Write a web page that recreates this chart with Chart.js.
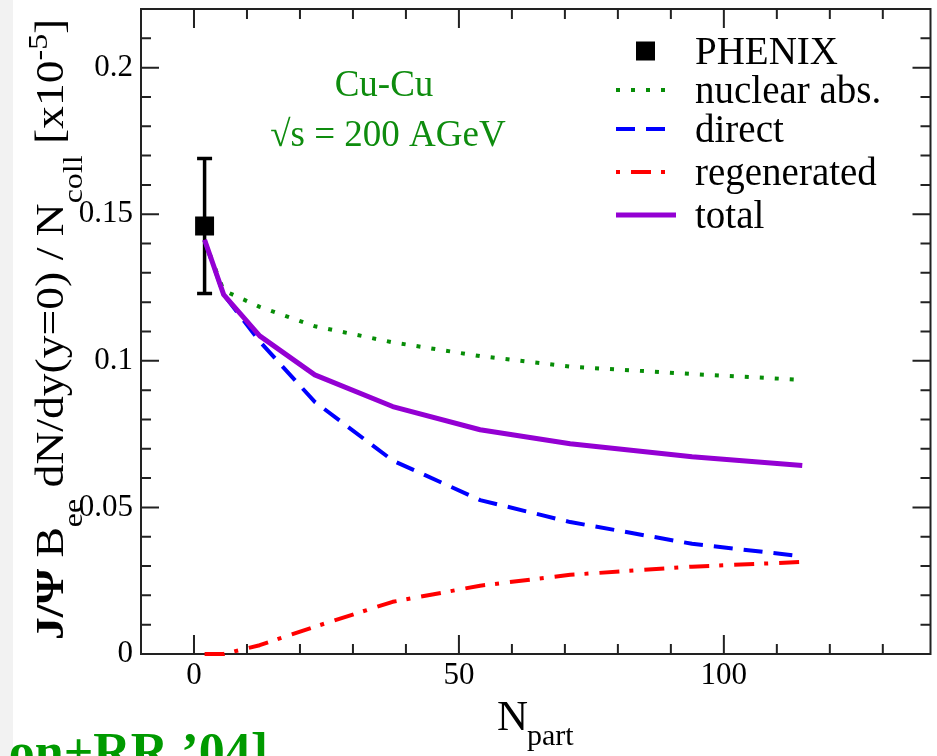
<!DOCTYPE html>
<html>
<head>
<meta charset="utf-8">
<script src="https://cdn.jsdelivr.net/npm/chart.js@4.4.1/dist/chart.umd.min.js"></script>
<style>
  html, body { margin: 0; padding: 0; background: #fff; }
  canvas { display: block; }
</style>
</head>
<body>
<canvas id="c" width="937" height="756"></canvas>
<script>
// N_part values of the model curves
const npart = [2, 5.6, 12.4, 22.8, 37.5, 54, 71, 94, 114.8];
const nuclearAbs = [0.141, 0.124, 0.1184, 0.1118, 0.1063, 0.1016, 0.098, 0.0955, 0.0935];
const direct = [0.141, 0.1226, 0.1066, 0.086, 0.066, 0.0525, 0.045, 0.0376, 0.0333];
const regenerated = [0, 0, 0.003, 0.0093, 0.0178, 0.0233, 0.027, 0.0298, 0.0314];
const total = [0.1413, 0.1226, 0.1085, 0.0952, 0.0844, 0.0765, 0.0717, 0.0673, 0.0643];

// PHENIX data point
const phenixX = [2];
const phenixY = [0.146];
const phenixLow = [0.123];
const phenixHigh = [0.169];

const xTicks = [0, 50, 100];
const yTicks = [0, 0.05, 0.1, 0.15, 0.2];
const yTickLabels = ['0', '0.05', '0.1', '0.15', '0.2'];

const serif = '"Liberation Serif", "Times New Roman", serif';

function pts(xs, ys) {
    return xs.map((v, i) => ({x: v, y: ys[i]}));
}

const background = {
    id: 'background',
    beforeDraw(chart) {
        let ctx = chart.ctx;
        ctx.save();
        ctx.fillStyle = '#fff';
        ctx.fillRect(0, 0, chart.width, chart.height);
        ctx.fillStyle = '#f2f2f2';
        ctx.fillRect(0, 0, 13, chart.height);
        ctx.restore();
    }
};

// box with inward ticks on all four sides
const frame = {
    id: 'frame',
    beforeDatasetsDraw(chart) {
        let {ctx, chartArea: a, scales: {x, y}} = chart;
        ctx.save();
        ctx.strokeStyle = '#222';
        ctx.lineWidth = 2;
        ctx.strokeRect(a.left, a.top, a.right - a.left, a.bottom - a.top);
        ctx.beginPath();
        for (let v = -10; v <= x.max; v += 10) {
            let px = x.getPixelForValue(v);
            let len = xTicks.includes(v) ? 19 : 10;
            ctx.moveTo(px, a.bottom); ctx.lineTo(px, a.bottom - len);
            ctx.moveTo(px, a.top); ctx.lineTo(px, a.top + len);
        }
        for (let i = 0; i <= 22; i++) {
            let py = y.getPixelForValue(i / 100);
            let len = i % 5 === 0 ? 18 : 10;
            ctx.moveTo(a.left, py); ctx.lineTo(a.left + len, py);
            ctx.moveTo(a.right, py); ctx.lineTo(a.right - len, py);
        }
        ctx.stroke();
        ctx.restore();
    }
};

const errorBars = {
    id: 'errorBars',
    beforeDatasetsDraw(chart) {
        let {ctx, scales: {x, y}} = chart;
        ctx.save();
        ctx.strokeStyle = '#000';
        ctx.lineWidth = 3.5;
        phenixX.forEach((v, i) => {
            let px = x.getPixelForValue(v);
            let top = y.getPixelForValue(phenixHigh[i]);
            let bot = y.getPixelForValue(phenixLow[i]);
            ctx.beginPath();
            ctx.moveTo(px, top); ctx.lineTo(px, bot);
            ctx.moveTo(px - 7.5, top); ctx.lineTo(px + 7.5, top);
            ctx.moveTo(px - 7.5, bot); ctx.lineTo(px + 7.5, bot);
            ctx.stroke();
        });
        ctx.restore();
    }
};

const legendBox = {
    id: 'legendBox',
    afterDraw(chart) {
        let ctx = chart.ctx;
        let rows = [51, 90, 129, 172, 215];
        ctx.save();
        chart.data.datasets.forEach((ds, i) => {
            let sy = rows[i];
            if (ds.showLine === false) {
                ctx.fillStyle = ds.backgroundColor;
                ctx.fillRect(636, sy - 9.5, 19, 19);
            } else {
                ctx.strokeStyle = ds.borderColor;
                ctx.lineWidth = ds.borderWidth;
                ctx.lineCap = 'butt';
                ctx.setLineDash(ds.borderDash || []);
                ctx.lineDashOffset = ds.legendDashOffset || 0;
                ctx.beginPath();
                ctx.moveTo(616, sy);
                ctx.lineTo(ds.borderDash ? 666 : 676, sy);
                ctx.stroke();
                ctx.setLineDash([]);
            }
            ctx.fillStyle = '#000';
            ctx.font = '39px ' + serif;
            ctx.textBaseline = 'alphabetic';
            ctx.fillText(ds.label, 695, sy + 13);
        });
        ctx.restore();
    }
};

function drawRuns(ctx, runs) {
    let pos = 0;
    runs.forEach(r => {
        ctx.font = r.font;
        ctx.fillText(r.text, pos, r.shift || 0);
        pos += ctx.measureText(r.text).width;
    });
}

const texts = {
    id: 'texts',
    afterDraw(chart) {
        let ctx = chart.ctx;
        ctx.save();
        ctx.textBaseline = 'alphabetic';
        ctx.textAlign = 'left';

        // y axis title, stretched along its length like the original
        ctx.save();
        ctx.fillStyle = '#000';
        ctx.translate(63, 640);
        ctx.rotate(-Math.PI / 2);
        ctx.scale(1.14, 1);
        drawRuns(ctx, [
            {text: 'J/\u03A8', font: 'bold 40px ' + serif},
            {text: ' B', font: '40px ' + serif},
            {text: 'ee', font: '28px ' + serif, shift: 19},
            {text: ' dN/dy(y=0) / N', font: '40px ' + serif},
            {text: 'coll', font: '28px ' + serif, shift: 19},
            {text: ' [x10', font: '40px ' + serif},
            {text: '-5', font: '28px ' + serif, shift: -16},
            {text: ']', font: '40px ' + serif}
        ]);
        ctx.restore();

        // x axis title
        ctx.fillStyle = '#000';
        ctx.font = '43px ' + serif;
        ctx.fillText('N', 497, 730);
        ctx.font = '30px ' + serif;
        ctx.fillText('part', 527, 745);

        // system annotation
        ctx.fillStyle = '#0e8c0e';
        ctx.textAlign = 'center';
        ctx.font = '37px ' + serif;
        ctx.fillText('Cu-Cu', 384, 96);
        ctx.fillText('\u221As = 200 AGeV', 388, 146);

        // reference, cut by the bottom edge
        ctx.fillStyle = '#009a00';
        ctx.textAlign = 'right';
        ctx.font = 'bold 52px ' + serif;
        ctx.fillText('on+RR \u201904]', 268, 769);
        ctx.restore();
    }
};

new Chart(document.getElementById('c'), {
    type: 'line',
    data: {
        datasets: [
            {label: 'PHENIX', data: pts(phenixX, phenixY), showLine: false, pointStyle: 'rect',
             pointRadius: 13.4, backgroundColor: '#000', borderColor: '#000', borderWidth: 0, order: 0},
            {label: 'nuclear abs.', data: pts(npart, nuclearAbs), borderColor: '#078d07', borderWidth: 4,
             borderDash: [4, 11], pointRadius: 0, order: 4},
            {label: 'direct', data: pts(npart, direct), borderColor: '#0000ff', borderWidth: 4,
             borderDash: [19, 11], pointRadius: 0, order: 3},
            {label: 'regenerated', data: pts(npart, regenerated), borderColor: '#ff0000', borderWidth: 4,
             borderDash: [20, 10, 4, 11], legendDashOffset: 30, pointRadius: 0, order: 2, clip: false},
            {label: 'total', data: pts(npart, total), borderColor: '#9400d3', borderWidth: 5,
             pointRadius: 0, order: 1}
        ]
    },
    options: {
        responsive: false,
        animation: false,
        devicePixelRatio: 1,
        layout: {autoPadding: false, padding: {top: 9, right: 6.5, left: 0, bottom: 0}},
        elements: {line: {tension: 0, borderCapStyle: 'butt', borderJoinStyle: 'round'}},
        plugins: {legend: {display: false}, tooltip: {enabled: false}},
        scales: {
            x: {
                type: 'linear', min: -10, max: 139,
                afterFit(s) { s.height = 102; s.paddingLeft = 0; s.paddingRight = 0; },
                afterBuildTicks(s) { s.ticks = xTicks.map(v => ({value: v})); },
                grid: {display: false, drawTicks: false},
                border: {display: false},
                ticks: {font: {family: serif, size: 31}, color: '#000', padding: 3,
                        maxRotation: 0, autoSkip: false, callback: v => String(v)}
            },
            y: {
                type: 'linear', min: 0, max: 0.22,
                afterFit(s) { s.width = 141; s.paddingTop = 0; s.paddingBottom = 0; },
                afterBuildTicks(s) { s.ticks = yTicks.map(v => ({value: v})); },
                grid: {display: false, drawTicks: false},
                border: {display: false},
                ticks: {font: {family: serif, size: 31}, color: '#000', padding: 8,
                        autoSkip: false, callback: (v, i) => yTickLabels[i]}
            }
        }
    },
    plugins: [background, frame, errorBars, legendBox, texts]
});
</script>
</body>
</html>
